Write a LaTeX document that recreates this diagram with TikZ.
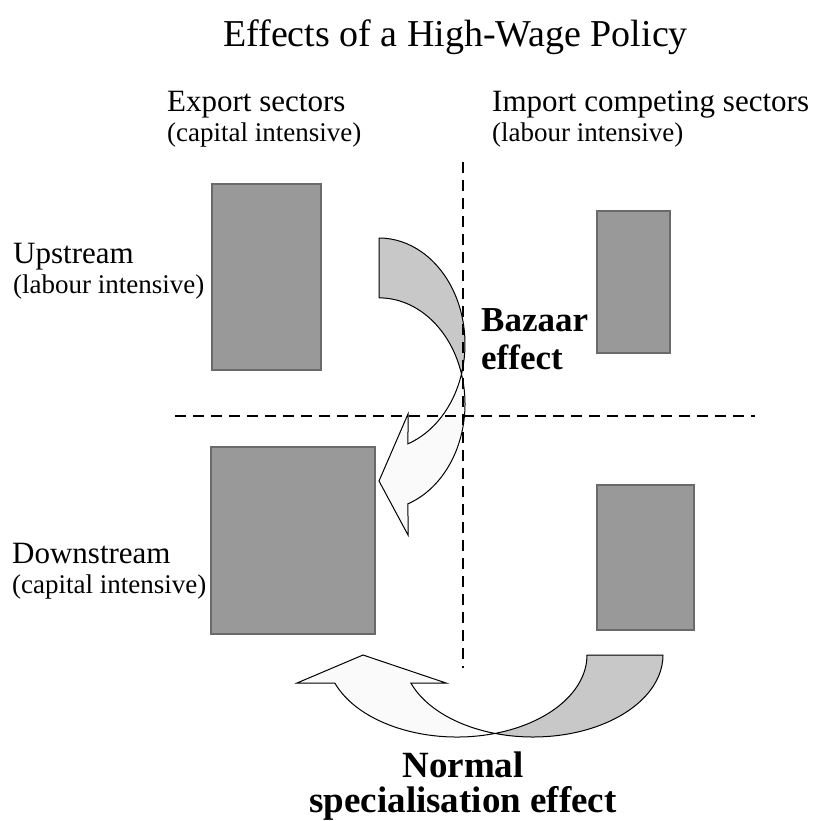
\documentclass[tikz,border=0pt]{standalone}
\usepackage{fontspec}
\setmainfont{Liberation Serif}
\usetikzlibrary{calc}

\definecolor{sectorgray}{HTML}{999999}
\definecolor{sectoredge}{HTML}{6A6A6A}
\definecolor{backgray}{HTML}{C8C8C8}
\definecolor{frontgray}{HTML}{FAFAFA}

\tikzset{
  heading/.style={anchor=base west, inner sep=0pt, font=\fontsize{31}{31}\selectfont},
  note/.style={anchor=base west, inner sep=0pt, font=\fontsize{27}{27}\selectfont},
  effect/.style={inner sep=0pt, font=\bfseries\fontsize{35}{35}\selectfont},
  sector/.style={fill=sectorgray, draw=sectoredge, line width=2pt},
  divider/.style={line width=2.5pt, dash pattern=on 11pt off 7pt},
  backside/.style={fill=backgray, draw=black, line width=1pt, line join=round},
  frontside/.style={fill=frontgray, draw=black, line width=1pt, line join=miter}
}

\begin{document}
\begin{tikzpicture}[x=1pt, y=-1pt]
    \useasboundingbox (0, 0) rectangle (816, 821);

    % Title
    \node [anchor=base west, inner sep=0pt, font=\fontsize{38}{38}\selectfont] (title) at (223, 47) {Effects of a High-Wage Policy};

    % Column headings
    \node [heading] (export) at (167, 112) {Export sectors};
    \node [note] (exportnote) at (167, 142) {(capital intensive)};
    \node [heading] (import) at (492, 112) {Import competing sectors};
    \node [note] (importnote) at (492, 142) {(labour intensive)};

    % Row headings
    \node [heading] (up) at (13, 263) {Upstream};
    \node [note] (upnote) at (13, 293) {(labour intensive)};
    \node [heading] (down) at (12, 563) {Downstream};
    \node [note] (downnote) at (12, 593) {(capital intensive)};

    % Sectors
    \filldraw [sector] (212, 184) rectangle (321, 370);
    \filldraw [sector] (597, 211) rectangle (670, 353);
    \filldraw [sector] (211, 447) rectangle (375, 634);
    \filldraw [sector] (597, 485) rectangle (694, 630);

    % Bazaar effect arrow
    \coordinate (bzO) at (379, 344);
    \coordinate (bzI) at (379, 404);
    \coordinate (bzX) at ($(bzO)+(16.4:86 and 106)$);
    \filldraw [backside] ($(bzO)+(-90:86 and 106)$)
      arc [start angle=-90, end angle=16.4, x radius=86, y radius=106]
      arc [start angle=-16.4, end angle=-90, x radius=86, y radius=106] -- cycle;
    \filldraw [frontside] (bzX)
      arc [start angle=16.4, end angle=70.3, x radius=86, y radius=106]
      -- (408, 414) -- (379, 481) -- (408, 535)
      -- ($(bzI)+(70.3:86 and 106)$)
      arc [start angle=70.3, end angle=-16.4, x radius=86, y radius=106] -- cycle;

    % Normal specialisation effect arrow
    \coordinate (nsA) at (533, 655);
    \coordinate (nsB) at (457, 655);
    \coordinate (nsX) at ($(nsA)+(107:130 and 82)$);
    \filldraw [backside] ($(nsA)+(0:130 and 82)$)
      arc [start angle=0, end angle=107, x radius=130, y radius=82]
      arc [start angle=73, end angle=0, x radius=130, y radius=82] -- cycle;
    \filldraw [frontside] (nsX)
      arc [start angle=107, end angle=160, x radius=130, y radius=82]
      -- (446, 683) -- (363, 655) -- (297, 683)
      -- ($(nsB)+(160:130 and 82)$)
      arc [start angle=160, end angle=73, x radius=130, y radius=82] -- cycle;

    % Dividers
    \coordinate (vtop) at (463, 162);
    \coordinate (vbot) at (463, 668);
    \coordinate (hleft) at (175, 416);
    \coordinate (hright) at (755, 416);
    \draw [divider] (vtop) -- (vbot);
    \draw [divider] (hleft) -- (hright);

    % Effect labels
    \node [effect, anchor=base west] (bazaar) at (481, 331) {Bazaar};
    \node [effect, anchor=base west] (bazaareff) at (481, 369) {effect};
    \node [effect, anchor=base, font=\bfseries\fontsize{37}{37}\selectfont] (normal) at (463, 777) {Normal};
    \node [effect, anchor=base, font=\bfseries\fontsize{37}{37}\selectfont] (normaleff) at (463, 812) {specialisation effect};
  \end{tikzpicture}
\end{document}
